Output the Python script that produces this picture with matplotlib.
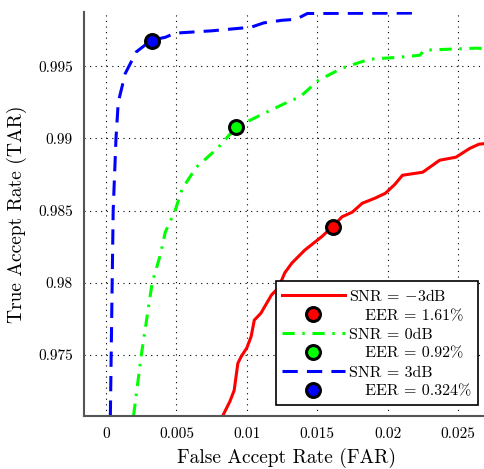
import matplotlib
matplotlib.use('Agg')
import matplotlib.pyplot as plt

plt.rcParams['font.family'] = 'cmr10'
plt.rcParams['mathtext.fontset'] = 'cm'
plt.rcParams['axes.unicode_minus'] = False
plt.rcParams['axes.formatter.use_mathtext'] = True

# ---- curves ----
far_m3 = [0.00829, 0.0088, 0.0091, 0.00936, 0.0096, 0.0100, 0.0103, 0.01053, 0.0110, 0.01175,
          0.01223, 0.0127, 0.0132, 0.01411, 0.0153, 0.01605, 0.01676, 0.0175, 0.0182, 0.0191,
          0.01984, 0.0205, 0.02106, 0.0225, 0.0237, 0.02486, 0.02586, 0.0265, 0.0272]
tar_m3 = [0.9708, 0.9718, 0.97256, 0.97443, 0.9749, 0.9755, 0.97627, 0.97742, 0.9779, 0.97916,
          0.97964, 0.9807, 0.98137, 0.98226, 0.98318, 0.98385, 0.98457, 0.9849, 0.98551, 0.98586,
          0.9862, 0.9868, 0.98745, 0.98766, 0.98849, 0.9887, 0.98932, 0.9896, 0.98967]

far_0 = [0.00195, 0.0025, 0.00327, 0.00387, 0.0042, 0.0049, 0.0054, 0.0064, 0.0079,
         0.00924, 0.0098, 0.01125, 0.0132, 0.01375, 0.0151, 0.01676, 0.0187, 0.0208,
         0.0223, 0.0226, 0.0263, 0.0272]
tar_0 = [0.9708, 0.975, 0.98, 0.982, 0.9835, 0.985, 0.9865, 0.988, 0.9893,
         0.99078, 0.99105, 0.99175, 0.99265, 0.99285, 0.99403, 0.99486, 0.99548, 0.99562,
         0.99576, 0.99611, 0.99625, 0.9962]

far_3 = [0.0003, 0.0004, 0.0005, 0.0007, 0.00086, 0.00136, 0.00215, 0.00322, 0.0042,
         0.0049, 0.0075, 0.0103, 0.0112, 0.0125, 0.0135, 0.0143, 0.0222]
tar_3 = [0.9708, 0.978, 0.985, 0.99, 0.9925, 0.9945, 0.996, 0.9968, 0.9970,
         0.99729, 0.99745, 0.9977, 0.9980, 0.99818, 0.99825, 0.99865, 0.99868]

eer_far = [0.0161, 0.0092, 0.00324]
eer_tar = [0.98385, 0.99078, 0.99678]
snr_labels = [r'SNR = $-$3dB', 'SNR = 0dB', 'SNR = 3dB']
eer_labels = ['   EER = 1.61%', '   EER = 0.92%', '   EER = 0.324%']
colors = ['#ff0000', '#00ff00', '#0000ff']

fig = plt.figure(figsize=(4.85, 4.69), dpi=100)
ax = fig.add_axes([0.173, 0.113, 0.835, 0.861])

curves = [(far_m3, tar_m3), (far_0, tar_0), (far_3, tar_3)]
styles = [dict(linestyle='-'), dict(dashes=[4, 2.5, 0.8, 2.5]), dict(dashes=[5, 3])]

handles = []
for i in range(3):
    ln, = ax.plot(curves[i][0], curves[i][1], color=colors[i], lw=2.2,
                  label=snr_labels[i], **styles[i])
    pt, = ax.plot(eer_far[i], eer_tar[i], 'o', color=colors[i], mec='black',
                  mew=2.2, ms=10, label=eer_labels[i], zorder=5)
    handles += [ln, pt]

ax.set_xlim(-0.00158, 0.0272)
ax.set_ylim(0.97078, 0.99874)
ax.set_xticks([0, 0.005, 0.01, 0.015, 0.02, 0.025])
ax.set_xticklabels(['0', '0.005', '0.01', '0.015', '0.02', '0.025'])
ax.set_yticks([0.975, 0.98, 0.985, 0.99, 0.995])
ax.set_yticklabels(['0.975', '0.98', '0.985', '0.99', '0.995'])
ax.tick_params(length=0, labelsize=11, pad=8)

ax.grid(True, color='black', linestyle=(0, (1, 4)), lw=0.8)
ax.spines['top'].set_visible(False)
ax.spines['right'].set_visible(False)
for s in ['left', 'bottom']:
    ax.spines[s].set_color('#555555')
    ax.spines[s].set_linewidth(1.5)

ax.set_xlabel('False Accept Rate (FAR)', fontsize=14, labelpad=5)
ax.set_ylabel('True Accept Rate (TAR)', fontsize=14, labelpad=8)

leg = ax.legend(handles=handles, loc='lower right', fontsize=11.5, handlelength=3.9,
                fancybox=False, framealpha=1, edgecolor='black',
                borderaxespad=0, labelspacing=0.3, handletextpad=0.3,
                bbox_to_anchor=(0.973, 0.027))
leg.get_frame().set_linewidth(1.2)

fig.savefig('out.png', dpi=100)
